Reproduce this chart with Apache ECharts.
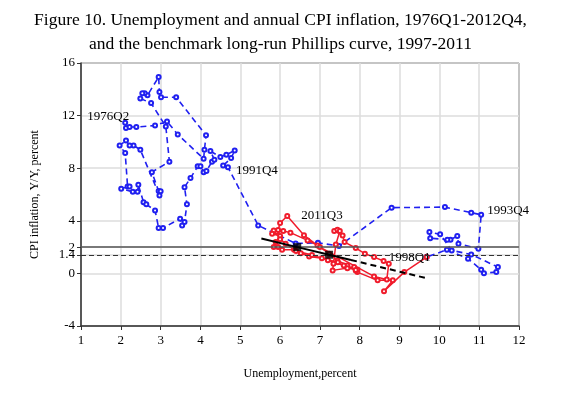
<!DOCTYPE html>
<html>
<head>
<meta charset="utf-8">
<script src="https://cdn.jsdelivr.net/npm/echarts@6/dist/echarts.min.js"></script>
<style>
html, body { margin: 0; padding: 0; background: #fff; }
#chart { width: 561px; height: 397px; }
</style>
</head>
<body>
<div id="chart"></div>
<script>
// 1976Q2 - 1997Q4
var blueU = [2.11, 2.13, 2.22, 2.39, 2.86, 3.16, 3.43, 4.08, 4.10, 4.14, 3.39, 3.01, 2.97, 2.95, 2.67, 2.60, 2.54, 2.49, 2.76, 3.13,
    3.22, 2.78, 2.95, 3.00, 2.97, 2.49, 2.32, 2.22, 2.13, 1.97, 2.11, 2.17, 2.22, 2.01, 2.30, 2.42, 2.44, 2.57, 2.64, 2.86,
    2.95, 3.06, 3.49, 3.54, 3.60, 3.66, 3.60, 3.75, 3.93, 4.00, 4.08, 4.15, 4.29, 4.35, 4.25, 4.50, 4.65, 4.86, 4.77, 4.57,
    4.69, 5.45, 6.39, 6.95, 7.48, 8.80, 10.14, 10.80, 11.05, 10.98, 10.48, 10.45, 10.28, 10.20, 9.77, 9.75, 10.02, 10.31, 10.80, 11.47,
    11.43, 11.12, 11.05, 10.72, 10.19, 9.68];
var blueCPI = [11.46, 11.05, 11.13, 11.13, 11.25, 11.56, 10.57, 8.72, 9.40, 10.50, 13.40, 13.40, 13.80, 14.93, 13.55, 13.70, 13.70, 13.30, 12.95, 11.18,
    8.50, 7.70, 6.26, 6.24, 5.93, 9.40, 9.73, 9.73, 10.10, 9.73, 9.15, 6.60, 6.60, 6.44, 6.20, 6.20, 6.74, 5.42, 5.25, 4.79,
    3.45, 3.45, 4.16, 3.65, 3.90, 5.25, 6.56, 7.25, 8.14, 8.14, 7.70, 7.78, 8.50, 8.65, 9.30, 8.85, 9.03, 9.35, 8.77, 8.20,
    8.08, 3.65, 2.28, 2.33, 2.08, 5.00, 5.04, 4.62, 4.46, 1.88, 2.26, 2.84, 2.56, 2.56, 2.68, 3.14, 2.97, 1.75, 1.44, 0.48,
    0.10, 0.02, 0.28, 1.12, 1.80, 1.24];

// 1998Q1 - 2012Q4
var redU = [9.68, 9.12, 8.61, 8.83, 8.45, 7.94, 7.90, 7.69, 7.44, 7.23, 6.94, 6.69, 6.26, 6.08, 5.91, 5.84, 5.80, 6.00, 5.89, 5.84,
    5.95, 6.05, 6.35, 6.52, 6.73, 7.05, 7.45, 7.69, 7.94, 7.60, 7.20, 6.80, 6.40, 6.14, 6.00, 5.95, 6.00, 6.18, 6.60, 7.00,
    8.36, 8.68, 8.73, 8.60, 8.36, 8.13, 7.90, 7.62, 7.57, 7.36, 7.44, 7.50, 7.40, 7.34, 7.32, 7.86, 7.90];
var redCPI = [1.24, 0.10, -1.35, -0.53, -0.53, 0.10, 0.23, 0.61, 0.99, 1.50, 2.13, 2.51, 3.10, 3.22, 3.14, 3.27, 3.02, 2.84, 2.38, 2.00,
    2.00, 1.80, 1.80, 1.54, 1.29, 1.15, 0.85, 0.40, 0.30, 0.60, 1.00, 1.40, 1.70, 2.26, 2.60, 3.30, 3.83, 4.36, 2.90, 2.00,
    -0.23, -0.46, 0.74, 0.94, 1.24, 1.50, 1.93, 2.38, 2.89, 3.22, 3.32, 3.22, 2.20, 0.74, 0.23, 0.48, 0.25];

// benchmark long-run Phillips curve, 1997-2011
var curveU = [5.53, 6.43, 7.23, 7.78];
var curveCPI = [2.66, 2.00, 1.42, 1.02];
var extU = [7.78, 9.66];
var extCPI = [1.02, -0.35];
var markU = [6.43, 7.23];
var markCPI = [2.00, 1.42];

var targetInfl = 2;
var avgInfl = 1.4;
var yTicks = [-4, 0, 1.4, 2, 4, 8, 12, 16];

var blueLabels = [[0, '1976Q2'], [60, '1991Q4'], [68, '1993Q4']];
var redLabels = [[0, '1998Q1'], [37, '2011Q3']];

var serif = '"Liberation Serif", "DejaVu Serif", serif';
var labelPos = { '1976Q2': ['left', [12, -6]], '1991Q4': ['right', [0, 3]], '1993Q4': ['right', [-2, -4]],
    '1998Q1': ['left', [12, 0]], '2011Q3': ['right', [6, 0]] };

function pairs(us, cs, labels) {
    var out = us.map(function (u, i) { return [u, cs[i]]; });
    labels.forEach(function (l) {
        var p = labelPos[l[1]];
        out[l[0]] = {
            value: out[l[0]],
            label: { show: true, formatter: l[1], position: p[0], offset: p[1], color: '#000', fontFamily: serif, fontSize: 13 }
        };
    });
    return out;
}

var chart = echarts.init(document.getElementById('chart'));
var option = {
    animation: false,
    backgroundColor: '#fff',
    title: {
        text: 'Figure 10. Unemployment and annual CPI inflation, 1976Q1-2012Q4,\nand the benchmark long-run Phillips curve, 1997-2011',
        left: 'center',
        top: 3,
        textStyle: { fontFamily: serif, fontSize: 17.5, fontWeight: 'normal', color: '#000', lineHeight: 24 }
    },
    grid: { left: 81, right: 42, top: 63, bottom: 71, show: true, borderColor: '#000', borderWidth: 1 },
    xAxis: {
        type: 'value', min: 1, max: 12, interval: 1,
        name: 'Unemployment,percent', nameLocation: 'middle', nameGap: 42,
        nameTextStyle: { fontFamily: serif, fontSize: 12, color: '#000' },
        axisLine: { onZero: false, lineStyle: { color: '#333', width: 1.5 } },
        axisTick: { lineStyle: { color: '#333' }, length: 4 },
        axisLabel: { fontFamily: serif, fontSize: 13, color: '#000', margin: 8 },
        splitLine: { show: true, lineStyle: { color: '#dcdcdc', width: 1.5 } }
    },
    yAxis: {
        type: 'value', min: -4, max: 16, interval: 4,
        name: 'CPI inflation, Y/Y, percent', nameLocation: 'middle', nameGap: 40, nameRotate: 90,
        nameTextStyle: { fontFamily: serif, fontSize: 12, color: '#000' },
        axisLine: { show: true, onZero: false, lineStyle: { color: '#333', width: 1.5 } },
        axisTick: { show: true, customValues: yTicks, lineStyle: { color: '#333' }, length: 4 },
        axisLabel: { customValues: yTicks, fontFamily: serif, fontSize: 13, color: '#000', margin: 6 },
        splitLine: { show: true, lineStyle: { color: '#dcdcdc', width: 1.5 } }
    },
    series: [
        {
            type: 'line', data: [], z: 1,
            markLine: {
                silent: true, symbol: 'none', label: { show: false },
                data: [
                    { yAxis: targetInfl, lineStyle: { color: '#555', width: 1.5, type: 'solid' } },
                    { yAxis: avgInfl, lineStyle: { color: '#333', width: 1, type: [5, 3] } }
                ]
            }
        },
        {
            name: '1976Q2-1997Q4', type: 'line', z: 2,
            data: pairs(blueU, blueCPI, blueLabels),
            symbol: 'emptyCircle', symbolSize: 4,
            lineStyle: { color: '#2020f0', width: 1.6, type: [6, 4] },
            itemStyle: { color: '#2020f0', borderWidth: 1.1 }
        },
        {
            name: '1998Q1-2012Q4', type: 'line', z: 3,
            data: pairs(redU, redCPI, redLabels),
            symbol: 'emptyCircle', symbolSize: 4,
            lineStyle: { color: '#f01c2c', width: 1.5 },
            itemStyle: { color: '#f01c2c', borderWidth: 1.1 }
        },
        {
            type: 'line', z: 4, symbol: 'none',
            data: extU.map(function (u, i) { return [u, extCPI[i]]; }),
            lineStyle: { color: '#000', width: 2, type: [6, 4] }
        },
        {
            type: 'line', z: 5, symbol: 'none',
            data: curveU.map(function (u, i) { return [u, curveCPI[i]]; }),
            lineStyle: { color: '#000', width: 2 }
        },
        {
            type: 'scatter', z: 6, symbol: 'rect', symbolSize: 8,
            data: markU.map(function (u, i) { return [u, markCPI[i]]; }),
            itemStyle: { color: '#000' }
        }
    ]
};
chart.setOption(option);
</script>
</body>
</html>
